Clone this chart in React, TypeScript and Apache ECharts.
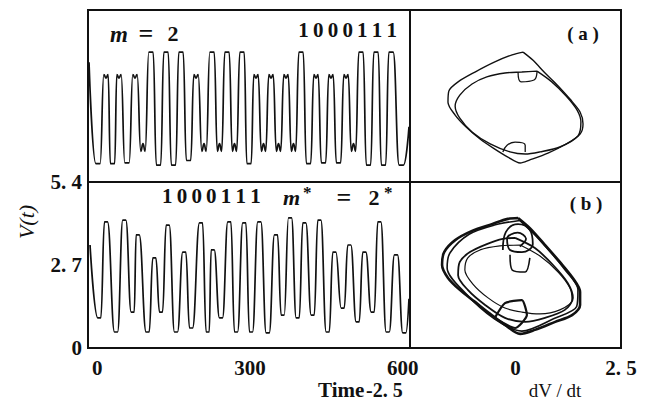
import React, { useEffect, useRef } from 'react';
import * as echarts from 'echarts';

// ---------- axis ticks ----------
const timeTicks = [0, 300, 600];
const voltTicks = [0, 2.7, 5.4];
const rateTicks = [0, 2.5];

// ---------- (a) time series, m = 2 : extrema (time, level, notch) ----------
const topTimes = [-16, 1.6, 17.3, 30.1, 42.8, 58.5, 74.2, 89.9, 105.6, 120.4, 135.1, 149.8, 164.5, 179.3, 194, 209.7, 225.4, 240.1, 254.8, 269.5, 284.3, 298, 311.7, 326.5, 341.2, 355.9, 370.6, 385.3, 400.1, 414.8, 429.5, 444.2, 458.9, 473.7, 488.4, 503.1, 517.8, 532.5, 547.3, 562, 576.7, 597, 612];
const topValues = [3.9, 0.6, 3.5, 0.6, 3.5, 0.62, 3.5, 1.0, 4.23, 0.55, 4.23, 0.55, 4.23, 0.7, 3.5, 1.0, 4.23, 1.0, 4.23, 1.0, 4.23, 0.6, 3.5, 1.0, 3.5, 1.0, 3.5, 1.0, 4.23, 0.6, 3.5, 0.62, 3.5, 0.62, 3.5, 1.0, 4.23, 0.55, 4.23, 0.55, 4.23, 0.55, 1.8];
const topNotch = [0, 0, -0.12, 0, -0.12, 0, -0.12, 0.25, 0, 0, 0, 0, 0, 0, -0.12, 0.25, 0, 0.25, 0, 0.25, 0, 0, -0.12, 0.25, -0.12, 0.25, -0.12, 0.25, 0, 0, -0.12, 0, -0.12, 0, -0.12, 0.25, 0, 0, 0, 0, 0, 0, 0];

// ---------- (b) time series, m* = 2* : extrema (time, level) ----------
const bottomTimes = [-14, 4.2, 17.3, 37, 53.3, 69.7, 79.5, 99.1, 112.2, 125.3, 138.4, 154.7, 171, 184.2, 203.8, 216.9, 226.7, 243, 259.4, 272.5, 288.8, 301.9, 318.3, 334.7, 351, 364.1, 378.5, 393.6, 406.6, 423, 436.1, 452.5, 465.5, 481.9, 494.9, 511.3, 524.3, 540.8, 553.8, 570.2, 586.5, 602.8, 612];
const bottomValues = [3.35, 0.98, 4.1, 0.52, 4.16, 1.17, 3.68, 0.52, 2.93, 1.17, 4.0, 0.52, 3.12, 0.65, 4.07, 0.52, 3.19, 0.98, 4.1, 0.52, 4.07, 0.52, 4.1, 0.49, 3.68, 1.07, 4.23, 0.98, 4.07, 1.07, 4.16, 0.52, 3.12, 1.3, 3.35, 0.85, 3.12, 1.17, 4.1, 0.52, 3.03, 0.49, 1.6];

// ---------- phase portraits (dV/dt, V) ----------
const loopAOuter = [[0.18, 4.23], [0.41, 3.97], [0.70, 3.55], [1.01, 3.13], [1.29, 2.70], [1.53, 2.28], [1.60, 1.89], [1.53, 1.56], [1.24, 1.27], [0.77, 0.94], [0.34, 0.72], [0.11, 0.62], [-0.18, 0.81], [-0.49, 1.07], [-0.84, 1.40], [-1.17, 1.79], [-1.43, 2.18], [-1.60, 2.60], [-1.58, 2.96], [-1.36, 3.26], [-0.96, 3.58], [-0.49, 3.91], [-0.08, 4.14], [0.18, 4.23]];
const loopAInner = [[0.51, 3.61], [0.86, 3.26], [1.20, 2.80], [1.46, 2.34], [1.55, 1.95], [1.48, 1.50], [1.05, 1.14], [0.58, 0.98], [0.23, 0.91], [-0.13, 0.98], [-0.60, 1.24], [-1.03, 1.63], [-1.32, 2.08], [-1.43, 2.47], [-1.32, 2.83], [-1.03, 3.19], [-0.68, 3.42], [-0.25, 3.55], [0.15, 3.58], [0.51, 3.61]];
const lobeATop = [[0.06, 3.58], [0.13, 3.26], [0.44, 3.32], [0.51, 3.58]];
const lobeABottom = [[-0.30, 0.98], [-0.20, 1.20], [-0.01, 1.30], [0.23, 1.20], [0.23, 0.98]];

const loopBOuter = [[0.06, 4.23], [0.34, 3.90], [0.70, 3.35], [1.05, 2.80], [1.34, 2.31], [1.53, 1.82], [1.53, 1.40], [1.34, 1.07], [0.94, 0.85], [0.46, 0.59], [0.11, 0.46], [-0.25, 0.75], [-0.60, 1.11], [-0.96, 1.50], [-1.32, 1.89], [-1.60, 2.28], [-1.74, 2.70], [-1.69, 3.12], [-1.43, 3.51], [-1.03, 3.81], [-0.56, 4.03], [-0.18, 4.20], [0.06, 4.23]];
const loopBOuter2 = [[0.10, 4.15], [0.55, 3.55], [1.20, 2.50], [1.48, 1.90], [1.45, 1.35], [0.90, 0.95], [0.15, 0.55], [-0.50, 0.95], [-1.20, 1.80], [-1.62, 2.60], [-1.55, 3.10], [-1.10, 3.70], [-0.50, 4.00], [0.10, 4.15]];
const loopBMiddle = [[-0.01, 3.58], [0.46, 3.25], [0.89, 2.70], [1.24, 2.11], [1.36, 1.63], [1.17, 1.24], [0.70, 0.98], [0.23, 0.85], [-0.25, 0.98], [-0.72, 1.40], [-1.13, 1.89], [-1.36, 2.37], [-1.32, 2.80], [-1.08, 3.12], [-0.68, 3.38], [-0.30, 3.55], [-0.01, 3.58]];
const loopBInner = [[0.11, 3.35], [0.58, 2.99], [1.01, 2.47], [1.29, 1.95], [1.34, 1.56], [1.05, 1.24], [0.58, 1.11], [0.15, 1.17], [-0.25, 1.30], [-0.65, 1.63], [-1.01, 2.08], [-1.20, 2.54], [-1.13, 2.93], [-0.84, 3.19], [-0.37, 3.32], [0.11, 3.35]];
const tangleBTop = [[-0.30, 3.19], [-0.23, 3.77], [0.06, 4.03], [0.34, 3.84], [0.41, 3.38], [0.15, 3.12], [-0.13, 3.19], [-0.20, 3.55], [0.05, 3.75], [0.25, 3.55], [0.10, 3.30]];
const lobeBTop = [[-0.13, 3.03], [-0.08, 2.54], [0.23, 2.47], [0.34, 2.93]];
const lobeBBottom = [[-0.49, 0.98], [-0.25, 1.46], [0.15, 1.56], [0.27, 1.07], [-0.01, 0.65], [-0.49, 0.98]];

const INK = '#111';
const SERIF = '"Liberation Serif", "DejaVu Serif", serif';

function buildTrace(times: number[], values: number[], notch: number[] | null, w: number) {
  const out: number[][] = [];
  times.forEach((t, i) => {
    const v = values[i];
    if (i === 0 || i === times.length - 1) {
      out.push([t, v]);
      return;
    }
    const n = notch ? notch[i] : 0;
    out.push([t - w, v]);
    if (n) out.push([t, v + n]);
    out.push([t + w, v]);
  });
  return out;
}

function fmt(v: number) {
  if (v === 0) return '0';
  return v.toFixed(1).replace('.', '. ');
}

function txt(text: string, x: number, y: number, opts: any = {}) {
  return {
    type: 'text',
    x,
    y,
    rotation: opts.rotation || 0,
    z: 10,
    style: {
      text,
      fill: INK,
      fontFamily: SERIF,
      fontSize: opts.size || 21,
      fontWeight: opts.weight || 'normal',
      fontStyle: opts.style || 'normal',
      align: opts.align || 'left',
      verticalAlign: 'middle',
    },
  };
}

export default function App() {
  const ref = useRef<HTMLDivElement>(null);

  useEffect(() => {
    if (!ref.current) return;
    const chart = echarts.init(ref.current, null, { renderer: 'svg' });

    const gridBase = { show: true, borderColor: INK, borderWidth: 2, backgroundColor: 'transparent' };
    const hidden = {
      axisLine: { show: false },
      axisTick: { show: false },
      axisLabel: { show: false },
      splitLine: { show: false },
    };
    const labelStyle = { color: INK, fontFamily: SERIF, fontSize: 21, fontWeight: 'bold' };

    const lineSeries = (data: number[][], xi: number, width: number, smooth: number, mono?: boolean) => ({
      type: 'line',
      xAxisIndex: xi,
      yAxisIndex: xi,
      data,
      symbol: 'none',
      smooth,
      smoothMonotone: mono ? 'x' : undefined,
      lineStyle: { color: INK, width },
      silent: true,
    });

    const SP = '\u2009';
    const code = ['1', '0', '0', '0', '1', '1', '1'].join(SP);

    chart.setOption({
      animation: false,
      backgroundColor: '#fff',
      grid: [
        { ...gridBase, left: 88, top: 10, width: 322, height: 172 },
        { ...gridBase, left: 88, top: 182, width: 322, height: 166 },
        { ...gridBase, left: 410, top: 10, width: 211, height: 172 },
        { ...gridBase, left: 410, top: 182, width: 211, height: 166 },
      ],
      xAxis: [
        { gridIndex: 0, type: 'value', min: -18, max: 614, ...hidden },
        {
          gridIndex: 1, type: 'value', min: -18, max: 614,
          axisLine: { show: false }, axisTick: { show: false }, splitLine: { show: false },
          axisLabel: { show: true, customValues: timeTicks, margin: 9, ...labelStyle },
        },
        { gridIndex: 2, type: 'value', min: -2.5, max: 2.5, ...hidden },
        {
          gridIndex: 3, type: 'value', min: -2.5, max: 2.5,
          axisLine: { show: false }, axisTick: { show: false }, splitLine: { show: false },
          axisLabel: { show: true, customValues: rateTicks, margin: 9, formatter: (v: number) => fmt(v), ...labelStyle },
        },
      ],
      yAxis: [
        { gridIndex: 0, type: 'value', min: 0, max: 5.6, ...hidden },
        {
          gridIndex: 1, type: 'value', min: 0, max: 5.4,
          axisLine: { show: false }, axisTick: { show: false }, splitLine: { show: false },
          axisLabel: { show: true, customValues: voltTicks, margin: 6, formatter: (v: number) => fmt(v), ...labelStyle },
        },
        { gridIndex: 2, type: 'value', min: 0, max: 5.6, ...hidden },
        { gridIndex: 3, type: 'value', min: 0, max: 5.4, ...hidden },
      ],
      series: [
        lineSeries(buildTrace(topTimes, topValues, topNotch, 4.2), 0, 1.7, 0.5, true),
        lineSeries(buildTrace(bottomTimes, bottomValues, null, 3), 1, 1.7, 0.45, true),
        lineSeries(loopAOuter, 2, 1.4, 0.3),
        lineSeries(loopAInner, 2, 1.4, 0.3),
        lineSeries(lobeATop, 2, 1.3, 0.4),
        lineSeries(lobeABottom, 2, 1.3, 0.4),
        lineSeries(loopBOuter, 3, 2.6, 0.3),
        lineSeries(loopBOuter2, 3, 1.6, 0.3),
        lineSeries(loopBMiddle, 3, 1.8, 0.3),
        lineSeries(loopBInner, 3, 1.2, 0.3),
        lineSeries(tangleBTop, 3, 1.8, 0.4),
        lineSeries(lobeBTop, 3, 1.6, 0.3),
        lineSeries(lobeBBottom, 3, 2.2, 0.2),
      ],
      graphic: [
        txt('m', 110, 34, { style: 'italic', weight: 'bold', size: 23 }),
        txt('=', 146, 33, { weight: 'bold', size: 26, align: 'center' }),
        txt('2', 173, 33, { weight: 'bold', size: 22, align: 'center' }),
        txt(code, 397, 30, { weight: 'bold', size: 21, align: 'right' }),
        txt('( a )', 583, 33, { weight: 'bold', size: 19, align: 'center' }),
        txt(code, 162, 196, { weight: 'bold', size: 21 }),
        txt('m', 283, 197, { style: 'italic', weight: 'bold', size: 22 }),
        txt('*', 303, 192, { weight: 'bold', size: 17 }),
        txt('=', 344, 197, { weight: 'bold', size: 26, align: 'center' }),
        txt('2', 374, 197, { weight: 'bold', size: 22, align: 'center' }),
        txt('*', 384, 192, { weight: 'bold', size: 17 }),
        txt('( b )', 586, 203, { weight: 'bold', size: 19, align: 'center' }),
        txt('V(t)', 26, 222, { style: 'italic', size: 22, align: 'center', rotation: Math.PI / 2 }),
        txt('Time', 318, 390, { weight: 'bold', size: 21 }),
        txt('-2. 5', 366, 390, { weight: 'bold', size: 20 }),
        txt('dV / dt', 555, 390, { size: 19, align: 'center' }),
      ],
    });

    return () => chart.dispose();
  }, []);

  return (
    <div
      ref={ref}
      style={{ position: 'fixed', left: 0, top: 0, width: 660, height: 403, background: '#fff' }}
    />
  );
}
